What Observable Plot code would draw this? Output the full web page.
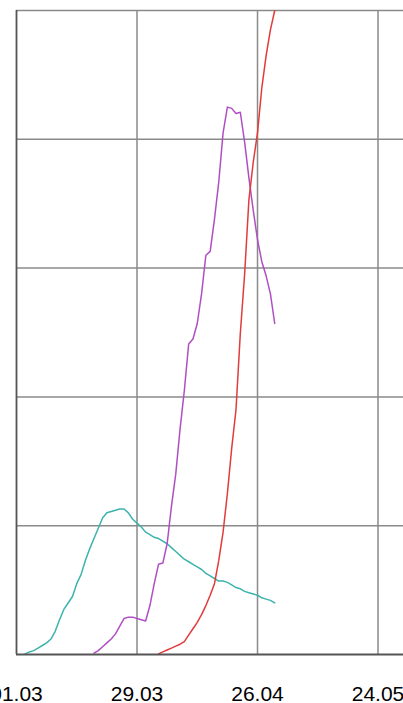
<!DOCTYPE html>
<html>
<head>
<meta charset="utf-8">
<script src="https://cdn.jsdelivr.net/npm/d3@7"></script>
<script src="https://cdn.jsdelivr.net/npm/@observablehq/plot@0.6"></script>
<style>
  html, body { margin: 0; padding: 0; background: #fff; overflow: hidden; }
  svg { display: block; }
</style>
</head>
<body>
<div id="chart"></div>
<script>
// Day offsets from 01.03 and values
const tealDays = [2,3,4,5,6,7,8,9,10,11,12,13,14,15,16,17,18,19,20,21,22,23,24,25,26,27,28,29,30,31,32,33,34,35,36,37,38,39,40,41,42,43,44,45,46,47,48,49,50,51,52,53,54,55,56,57,58,59,60];
const tealVals = [0.5,2,3,5,7,9,12,18,27,35,40,45,55,62,73,82,90,98,106,110,111,112,113,113,110,105,102,99,95,93,91,90,88,86,83,80,77,74,72,70,68,66,63,61,59,57,57,56,54,52,51,49,48,47,46,44,43,42,40];

const purpleDays = [18,19,20,21,22,23,24,25,26,27,28,29,30,31,32,33,34,35,36,37,38,39,40,41,42,43,44,45,46,47,48,49,50,51,52,53,54,55,56,57,58,59,60];
const purpleVals = [1,3,6,9,12,16,22,28,29,29,28,27,26,38,55,70,71,86,115,140,175,205,241,245,257,280,310,313,338,367,405,425,424,420,421,398,370,345,322,305,294,280,257];

const redDays = [33,34,35,36,37,38,39,40,41,42,43,44,45,46,47,48,49,50,51,52,53,54,55,56,57,58,59,60];
const redVals = [0.5,2,3.5,5,6.5,8,10,15,20,25,31,38,46,55,73,95,125,160,190,249,295,353,382,405,440,465,485,500];

const tickDays = [0, 28, 56, 84];
const yGrid = [0, 100, 200, 300, 400, 500];

const start = Date.UTC(2020, 2, 1);
const toDate = d => new Date(start + d * 864e5);

const rows = [];
tealDays.forEach((d, i) => rows.push({series: "teal", date: toDate(d), value: tealVals[i]}));
purpleDays.forEach((d, i) => rows.push({series: "purple", date: toDate(d), value: purpleVals[i]}));
redDays.forEach((d, i) => rows.push({series: "red", date: toDate(d), value: redVals[i]}));

const colors = {teal: "#3db3ae", purple: "#b04fc4", red: "#e23b3b"};

const chart = Plot.plot({
  width: 403,
  height: 703,
  marginLeft: 16,
  marginRight: 0,
  marginTop: 10,
  marginBottom: 49,
  style: {fontFamily: "'Liberation Sans', Arial, sans-serif", fontSize: "21px", color: "#000", background: "#fff"},
  x: {type: "utc", domain: [toDate(0), toDate(89.92)]},
  y: {domain: [0, 500]},
  marks: [
    Plot.ruleY(yGrid.slice(1), {stroke: "#8a8a8a", strokeWidth: 1.5, strokeOpacity: 1}),
    Plot.ruleX(tickDays.slice(1).map(toDate), {stroke: "#8a8a8a", strokeWidth: 1.5, strokeOpacity: 1}),
    Plot.line(rows, {x: "date", y: "value", z: "series", stroke: d => colors[d.series], strokeWidth: 1.5, clip: true}),
    Plot.ruleX([toDate(0)], {stroke: "#555", strokeWidth: 1.8}),
    Plot.ruleY([0], {stroke: "#555", strokeWidth: 1.8}),
    Plot.axisX(tickDays.map(toDate), {tickSize: 0, tickPadding: 32, tickFormat: d3.utcFormat("%d.%m"), fontSize: 21, fill: "#000"}),
    Plot.axisY({ticks: [], tickSize: 0, label: null})
  ]
});
document.getElementById("chart").appendChild(chart);
</script>
</body>
</html>
